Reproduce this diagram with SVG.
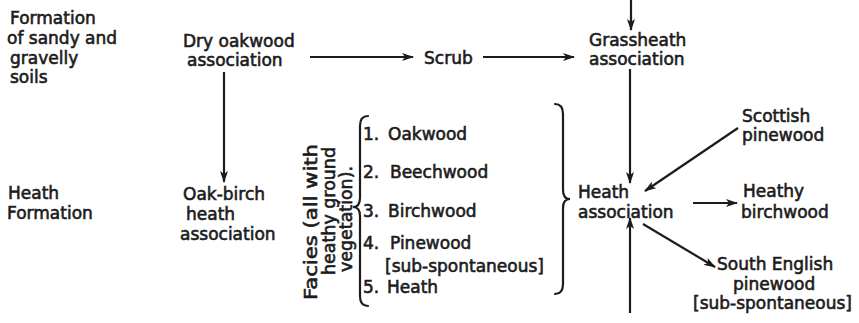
<svg xmlns="http://www.w3.org/2000/svg" width="859" height="323" viewBox="0 0 859 323">
<defs>
<style>
text{font-family:"DejaVu Sans","Liberation Sans",sans-serif;font-size:17px;fill:#1c1c1c;stroke:#1c1c1c;stroke-width:0.6px}
.vt{font-size:17.5px}
.c{fill:none;stroke:#1c1c1c;stroke-width:2.2}
.b{fill:none;stroke:#1c1c1c;stroke-width:2.2;stroke-linecap:round}
</style>
<marker id="ah" viewBox="0 0 12 8" refX="11" refY="4" markerWidth="12" markerHeight="8" markerUnits="userSpaceOnUse" orient="auto">
<path d="M0,0 L12,4 L0,8 L3,4 Z" fill="#1c1c1c"/>
</marker>
</defs>
<rect width="859" height="323" fill="#fff"/>
<g id="connectors">
<line class="c" x1="631" y1="0" x2="631" y2="30" marker-end="url(#ah)"/>
<line class="c" x1="310" y1="57" x2="413" y2="57" marker-end="url(#ah)"/>
<line class="c" x1="483" y1="57" x2="574" y2="57" marker-end="url(#ah)"/>
<line class="c" x1="224" y1="72" x2="224" y2="182" marker-end="url(#ah)"/>
<line class="c" x1="630" y1="69" x2="630" y2="183" marker-end="url(#ah)"/>
<line class="c" x1="738" y1="128" x2="645" y2="191" marker-end="url(#ah)"/>
<line class="c" x1="693" y1="203" x2="737" y2="203" marker-end="url(#ah)"/>
<line class="c" x1="643" y1="224" x2="715" y2="267" marker-end="url(#ah)"/>
<line class="c" x1="630" y1="313" x2="630" y2="218" marker-end="url(#ah)"/>
<path class="b" d="M368,116 Q360,116 360,126 L360,198 Q360,207 353,207 Q360,207 360,216 L360,296 Q360,306 368,306"/>
<path class="b" d="M555,104 Q563,104 563,114 L563,190 Q563,199 570,199 Q563,199 563,208 L563,284 Q563,294 555,294"/>
</g>
<g id="label-formation-sandy">
<text x="10" y="24">Formation</text>
<text x="7" y="44">of sandy and</text>
<text x="10" y="64">gravelly</text>
<text x="10" y="83">soils</text>
</g>
<g id="label-heath-formation">
<text x="8" y="199">Heath</text>
<text x="7" y="219">Formation</text>
</g>
<g id="node-dry-oakwood">
<text x="183" y="47">Dry oakwood</text>
<text x="187" y="66">association</text>
</g>
<g id="node-scrub">
<text x="424" y="64">Scrub</text>
</g>
<g id="node-grassheath">
<text x="589" y="46">Grassheath</text>
<text x="589" y="65">association</text>
</g>
<g id="node-oak-birch">
<text x="183" y="200">Oak-birch</text>
<text x="186" y="220">heath</text>
<text x="180" y="240">association</text>
</g>
<g id="node-facies">
<text class="vt" transform="translate(317,300) rotate(-90)" textLength="156" lengthAdjust="spacingAndGlyphs">Facies (all with</text>
<text class="vt" transform="translate(335,275) rotate(-90)" textLength="128" lengthAdjust="spacingAndGlyphs">heathy ground</text>
<text class="vt" transform="translate(352,272) rotate(-90)" textLength="106" lengthAdjust="spacingAndGlyphs">vegetation).</text>
<text x="363" y="140">1.<tspan x="388">Oakwood</tspan></text>
<text x="363" y="178">2.<tspan x="390">Beechwood</tspan></text>
<text x="363" y="217">3.<tspan x="388">Birchwood</tspan></text>
<text x="363" y="249">4.<tspan x="390">Pinewood</tspan></text>
<text x="385" y="272">[sub-spontaneous]</text>
<text x="363" y="293">5.<tspan x="387">Heath</tspan></text>
</g>
<g id="node-heath-association">
<text x="578" y="198">Heath</text>
<text x="578" y="218">association</text>
</g>
<g id="node-scottish-pinewood">
<text x="742" y="122">Scottish</text>
<text x="742" y="141">pinewood</text>
</g>
<g id="node-heathy-birchwood">
<text x="743" y="197">Heathy</text>
<text x="741" y="218">birchwood</text>
</g>
<g id="node-south-english">
<text x="717" y="270">South English</text>
<text x="733" y="290">pinewood</text>
<text x="693" y="309">[sub-spontaneous]</text>
</g>
</svg>
